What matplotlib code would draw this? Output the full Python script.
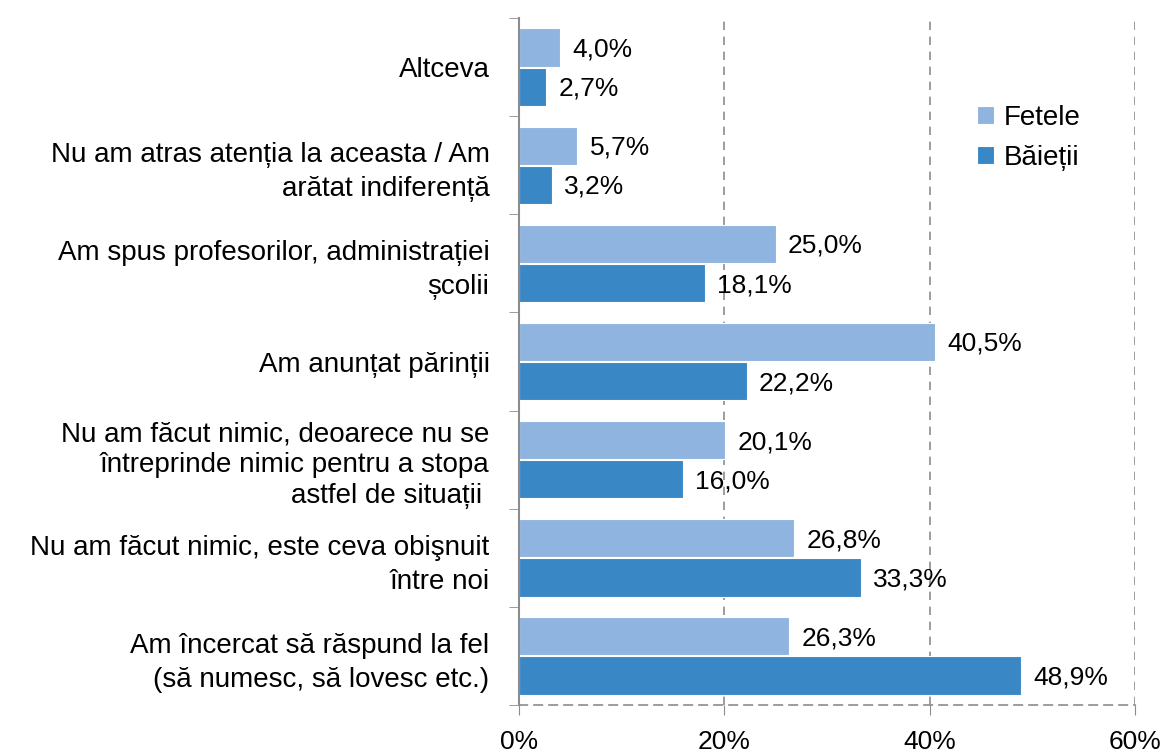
import numpy as np
import matplotlib.pyplot as plt

plt.rcParams['font.family'] = ['Liberation Sans', 'DejaVu Sans']

categorii = [
    "Altceva",
    "Nu am atras atenția la aceasta / Am\narătat indiferență",
    "Am spus profesorilor, administrației\nșcolii",
    "Am anunțat părinții",
    "Nu am făcut nimic, deoarece nu se\nîntreprinde nimic pentru a stopa\nastfel de situații ",
    "Nu am făcut nimic, este ceva obişnuit\nîntre noi",
    "Am încercat să răspund la fel\n(să numesc, să lovesc etc.)",
]
fetele = [4.0, 5.7, 25.0, 40.5, 20.1, 26.8, 26.3]
baietii = [2.7, 3.2, 18.1, 22.2, 16.0, 33.3, 48.9]

c_fete = '#8FB4E0'
c_baieti = '#3A87C6'
gri = '#8C8C8C'

fig = plt.figure(figsize=(11.63, 7.56), dpi=100)
ax = fig.add_axes([0.446, 0.0675, 0.53, 0.9085])

y = np.arange(len(categorii))
h = 0.39
ax.barh(y - 0.2, fetele, height=h, color=c_fete, edgecolor='white', linewidth=0.8, label='Fetele')
ax.barh(y + 0.2, baietii, height=h, color=c_baieti, edgecolor='white', linewidth=0.8, label='Băieții')

for yi, v in zip(y, fetele):
    ax.text(v + 1.2, yi - 0.18, f"{v:.1f}%".replace('.', ','), va='center', ha='left', fontsize=19)
for yi, v in zip(y, baietii):
    ax.text(v + 1.2, yi + 0.22, f"{v:.1f}%".replace('.', ','), va='center', ha='left', fontsize=19)

ax.set_xlim(0, 60)
ax.set_ylim(len(categorii) - 0.5, -0.5)
ax.set_xticks([0, 20, 40, 60])
ax.set_xticklabels(['0%', '20%', '40%', '60%'], fontsize=19)
ax.tick_params(axis='x', length=7, color=gri, pad=11)

ax.set_yticks(y)
ax.set_yticklabels(categorii, fontsize=20, ha='right')
for lbl in ax.get_yticklabels():
    n = lbl.get_text().count('\n')
    lbl.set_linespacing(1.25 if n >= 2 else 1.4)
ax.set_yticks(np.arange(-0.5, len(categorii)), minor=True)
ax.tick_params(axis='y', which='major', length=0, pad=21)
ax.tick_params(axis='y', which='minor', length=7, color=gri)

for xv in [20, 40, 60]:
    ax.axvline(xv, color=gri, linestyle=(0, (5, 4)), linewidth=1.2, zorder=0)

for s in ['top', 'right']:
    ax.spines[s].set_visible(False)
ax.spines['left'].set_color(gri)
ax.spines['left'].set_linewidth(1.5)
ax.spines['bottom'].set_color(gri)
ax.spines['bottom'].set_linestyle((0, (5, 4)))
ax.spines['bottom'].set_linewidth(1.2)

ax.legend(loc='upper left', bbox_to_anchor=(0.703, 0.91), frameon=False, fontsize=20,
          handlelength=0.6, handleheight=0.6, handletextpad=0.35, labelspacing=0.5)

plt.savefig('out.png', dpi=100)
plt.close()
